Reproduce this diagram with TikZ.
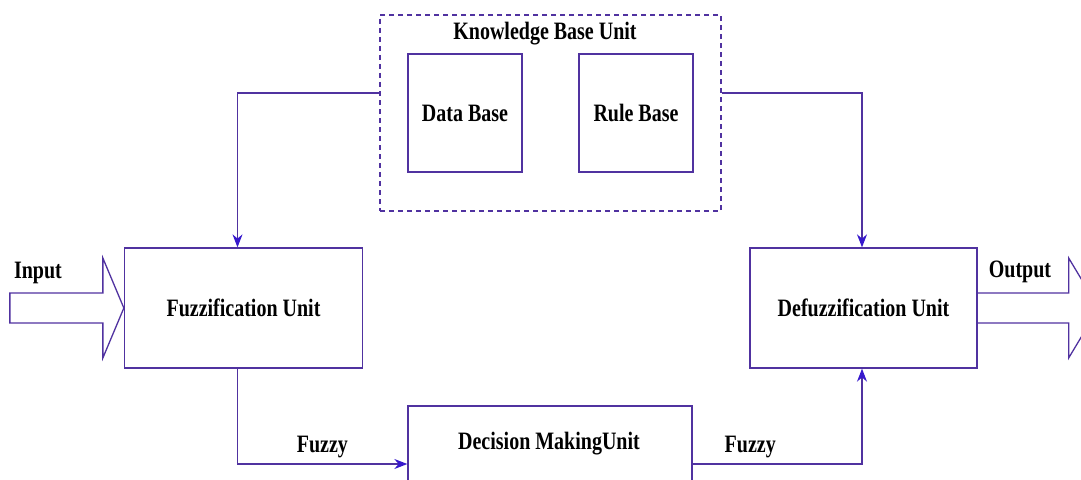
\documentclass[tikz,border=0pt]{standalone}
\usepackage{fontspec}
\setmainfont[FakeStretch=0.8]{Liberation Serif}
\usepackage{xcolor}
\usepackage{tikz}
\usetikzlibrary{positioning, arrows.meta}
\definecolor{unitline}{RGB}{80,50,160}
\definecolor{tipblue}{RGB}{55,25,205}

\begin{document}
\begin{tikzpicture}[
    x=1pt, y=-1pt,
    every node/.style={font=\bfseries\fontsize{25}{29}\selectfont, text=black},
    unit/.style={rectangle, draw=unitline, line width=1.3pt, inner sep=0pt},
    flow/.style={draw=unitline, line width=1.3pt, -{Stealth[length=13pt, width=10pt, color=tipblue]}},
    blockarrow/.style={draw=unitline, line width=1.3pt, line join=miter}
]
\clip (0,0) rectangle (1081,479);
\fill[white] (0,0) rectangle (1081,479);

\node[unit, minimum width=238pt, minimum height=120pt] (fuzz) at (243.5,308) {Fuzzification Unit};
\node[unit, minimum width=227pt, minimum height=120pt] (defuzz) at (863.5,308) {Defuzzification Unit};
\node[unit, minimum width=284pt, minimum height=116pt] (dec) at (550,464) {};
\node (dectext) at (549,444) {Decision MakingUnit};

\node[unit, dashed, dash pattern=on 5pt off 4pt, line width=1.1pt, minimum width=341pt, minimum height=196pt] (kb) at (550.5,113) {};
\node (kbtitle) at (545,34) {Knowledge Base Unit};
\node[unit, minimum width=114pt, minimum height=118pt] (data) at (465,113) {Data Base};
\node[unit, minimum width=114pt, minimum height=118pt] (rule) at (636,113) {Rule Base};

% input and output
\draw[blockarrow] (fuzz.west) -- ++(-21,-50) -- ++(0,35) -- ++(-93,0) -- ++(0,30) -- ++(93,0) -- ++(0,35) -- cycle;
\node (inlabel) at (38,273) {Input};
\draw[blockarrow] ([yshift=15pt]defuzz.east) -- ++(91,0) -- ++(0,-35) -- ++(30,50) -- ++(-30,50) -- ++(0,-35) -- ++(-91,0);
\node (outlabel) at (1020,272) {Output};

% knowledge base links
\draw[flow] ([yshift=20pt]kb.west) -| ([xshift=-6pt]fuzz.north);
\draw[flow] ([yshift=20pt]kb.east) -| ([xshift=-1.5pt]defuzz.south |- defuzz.north);

% fuzzy links
\draw[flow] ([xshift=-6pt]fuzz.south) |- node[pos=0.75, above=5pt, inner sep=0pt]{Fuzzy} (dec.west);
\draw[flow] (dec.east) -| node[pos=0.17, above=5pt, inner sep=0pt]{Fuzzy} ([xshift=-1.5pt]defuzz.south);
\end{tikzpicture}
\end{document}
